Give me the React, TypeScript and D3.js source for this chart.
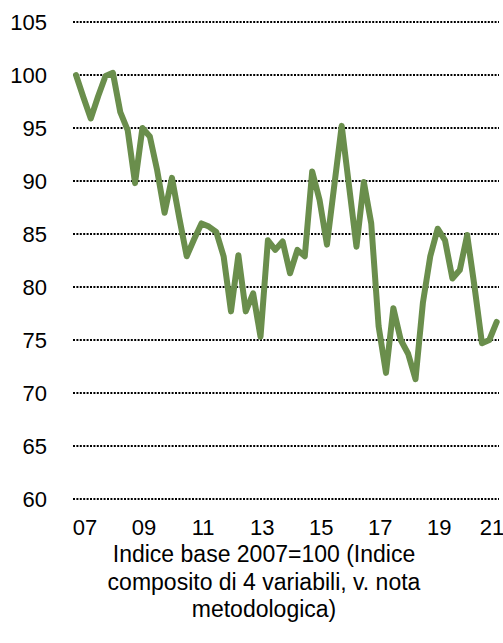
import { useEffect, useRef } from 'react';
import * as d3 from 'd3';

// quarterly values, 2007 Q1 .. 2021 Q2
const VALUES = [
  100.0, 97.9, 95.9, 98.0, 99.9, 100.2, 96.5, 94.8, 89.8, 95.0,
  94.2, 91.0, 87.0, 90.3, 86.5, 82.9, 84.5, 86.0, 85.7, 85.2,
  82.9, 77.7, 83.0, 77.7, 79.4, 75.3, 84.4, 83.5, 84.3, 81.3,
  83.5, 82.9, 90.9, 88.2, 84.0, 89.6, 95.2, 89.5, 83.8, 89.9,
  86.0, 76.3, 71.9, 78.0, 75.0, 73.7, 71.3, 78.5, 82.9, 85.5,
  84.4, 80.8, 81.6, 84.9, 80.0, 74.7, 75.0, 76.7
];
const YEAR_LABELS = ['07', '09', '11', '13', '15', '17', '19', '21'];
const Y_TICKS = [60, 65, 70, 75, 80, 85, 90, 95, 100, 105];
const CAPTION = [
  'Indice base 2007=100 (Indice',
  'composito di 4 variabili, v. nota',
  'metodologica)'
];

const W = 503;
const H = 643;
const FONT = "'Liberation Sans', Arial, sans-serif";

export default function App() {
  const svgRef = useRef<SVGSVGElement>(null);

  useEffect(() => {
    if (!svgRef.current) return;
    const svg = d3.select(svgRef.current);
    svg.selectAll('*').remove();

    const y = d3.scaleLinear().domain([60, 105]).range([499, 22]);
    const x = d3.scaleLinear().domain([0, VALUES.length - 1]).range([76, 496.7]);

    // gridlines
    svg.append('g')
      .selectAll('line')
      .data(Y_TICKS)
      .enter()
      .append('line')
      .attr('x1', 73)
      .attr('x2', 499)
      .attr('y1', d => y(d))
      .attr('y2', d => y(d))
      .attr('stroke', '#000')
      .attr('stroke-width', 2)
      .attr('stroke-dasharray', '2,1.4');

    // y labels
    svg.append('g')
      .selectAll('text')
      .data(Y_TICKS)
      .enter()
      .append('text')
      .attr('x', 47)
      .attr('y', d => y(d) + 8)
      .attr('text-anchor', 'end')
      .attr('font-family', FONT)
      .attr('font-size', 22)
      .attr('fill', '#000')
      .text(d => d);

    // x labels, one every 8 quarters
    svg.append('g')
      .selectAll('text')
      .data(YEAR_LABELS)
      .enter()
      .append('text')
      .attr('x', (_d, i) => Math.min(x(i * 8) + 9, 492))
      .attr('y', 535)
      .attr('text-anchor', 'middle')
      .attr('font-family', FONT)
      .attr('font-size', 22)
      .attr('fill', '#000')
      .text(d => d);

    const line = d3.line<number>()
      .x((_d, i) => x(i))
      .y(d => y(d));

    svg.append('path')
      .datum(VALUES)
      .attr('d', line)
      .attr('fill', 'none')
      .attr('stroke', '#6a8e4c')
      .attr('stroke-width', 6)
      .attr('stroke-linejoin', 'round')
      .attr('stroke-linecap', 'round');

    // caption, wrapped on three lines
    const caption = svg.append('text')
      .attr('x', 264)
      .attr('y', 562)
      .attr('text-anchor', 'middle')
      .attr('font-family', FONT)
      .attr('font-size', 23)
      .attr('fill', '#000');

    caption.selectAll('tspan')
      .data(CAPTION)
      .enter()
      .append('tspan')
      .attr('x', 264)
      .attr('dy', (_d, i) => (i === 0 ? 0 : 27.5))
      .text(d => d);
  }, []);

  return (
    <svg
      ref={svgRef}
      width={W}
      height={H}
      style={{ position: 'absolute', top: 0, left: 0, background: '#fff' }}
    />
  );
}
